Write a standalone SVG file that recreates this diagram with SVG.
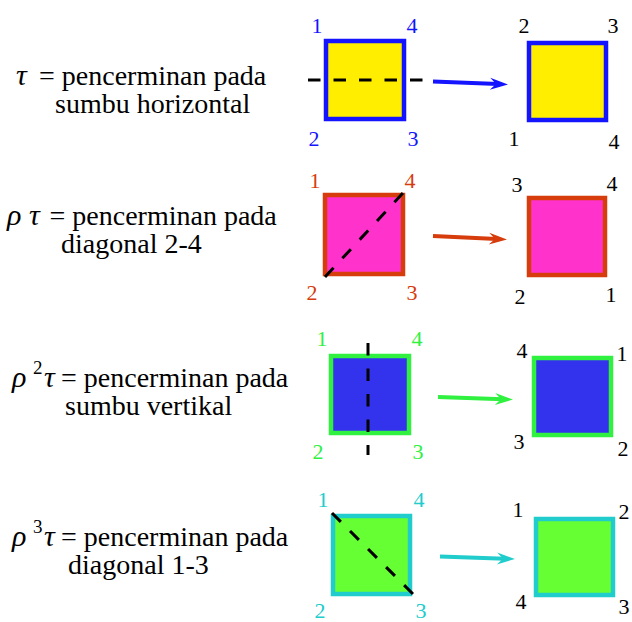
<svg xmlns="http://www.w3.org/2000/svg" width="632" height="622" viewBox="0 0 632 622" font-family="Liberation Serif, Times New Roman, DejaVu Serif, serif">
<style>
text{font-family:Liberation Serif,Times New Roman,DejaVu Serif,serif}
.lbl{font-size:28px;fill:#000}
.g{font-style:italic;font-size:30px}
.sup{font-size:19px}
.num{font-size:22px;text-anchor:middle}
.sq{stroke-width:4.5}
.axis{stroke:#000;stroke-width:3;stroke-dasharray:12.5 13;fill:none}
.arr{stroke-width:4;fill:none}
.c1{fill:#1414ff}.c2{fill:#d63c0c}.c3{fill:#30f040}.c4{fill:#20cccc}.k{fill:#000}
</style>
<defs>
<marker id="m1" markerUnits="userSpaceOnUse" markerWidth="30" markerHeight="20" viewBox="-10 -10 30 20" refX="0" refY="0" orient="auto"><path d="M10,0 L-8,-6 L-2,0 L-8,6 Z" fill="#1414ff"/></marker>
<marker id="m2" markerUnits="userSpaceOnUse" markerWidth="30" markerHeight="20" viewBox="-10 -10 30 20" refX="0" refY="0" orient="auto"><path d="M10,0 L-8,-6 L-2,0 L-8,6 Z" fill="#d63c0c"/></marker>
<marker id="m3" markerUnits="userSpaceOnUse" markerWidth="30" markerHeight="20" viewBox="-10 -10 30 20" refX="0" refY="0" orient="auto"><path d="M10,0 L-8,-6 L-2,0 L-8,6 Z" fill="#30f040"/></marker>
<marker id="m4" markerUnits="userSpaceOnUse" markerWidth="30" markerHeight="20" viewBox="-10 -10 30 20" refX="0" refY="0" orient="auto"><path d="M10,0 L-8,-6 L-2,0 L-8,6 Z" fill="#20cccc"/></marker>
</defs>

<g id="label1">
<text class="lbl g" x="16" y="85">τ</text>
<text class="lbl" x="39" y="85">= pencerminan pada</text>
<text class="lbl" x="55" y="113">sumbu horizontal</text>
</g>
<g id="label2">
<text class="lbl g" x="7" y="225">ρ</text>
<text class="lbl g" x="29" y="225">τ</text>
<text class="lbl" x="49.5" y="225">= pencerminan pada</text>
<text class="lbl" x="61" y="253">diagonal 2-4</text>
</g>
<g id="label3">
<text class="lbl g" x="12" y="387">ρ</text>
<text class="lbl sup" x="33" y="374">2</text>
<text class="lbl g" x="44" y="387">τ</text>
<text class="lbl" x="61" y="387">= pencerminan pada</text>
<text class="lbl" x="65" y="415">sumbu vertikal</text>
</g>
<g id="label4">
<text class="lbl g" x="12" y="546">ρ</text>
<text class="lbl sup" x="33" y="533">3</text>
<text class="lbl g" x="44" y="546">τ</text>
<text class="lbl" x="61" y="546">= pencerminan pada</text>
<text class="lbl" x="68" y="574">diagonal 1-3</text>
</g>

<g id="square1-before">
<rect class="sq" x="326" y="41" width="78" height="78" fill="#ffee00" stroke="#1414ff"/>
<line class="axis" x1="308" y1="80" x2="425" y2="80"/>
<text class="num c1" x="317" y="33">1</text>
<text class="num c1" x="412" y="33">4</text>
<text class="num c1" x="314" y="146">2</text>
<text class="num c1" x="413" y="146">3</text>
</g>
<g id="square1-after">
<rect class="sq" x="529" y="43" width="77" height="77" fill="#ffee00" stroke="#1414ff"/>
<text class="num k" x="524" y="33">2</text>
<text class="num k" x="613" y="33">3</text>
<text class="num k" x="514" y="146">1</text>
<text class="num k" x="614" y="149">4</text>
</g>

<g id="square2-before">
<rect class="sq" x="325" y="195" width="78" height="79" fill="#ff33cc" stroke="#d63c0c"/>
<line class="axis" x1="325" y1="277" x2="403" y2="193"/>
<text class="num c2" x="315" y="188">1</text>
<text class="num c2" x="410" y="188">4</text>
<text class="num c2" x="312" y="300">2</text>
<text class="num c2" x="412" y="300">3</text>
</g>
<g id="square2-after">
<rect class="sq" x="529" y="198" width="76" height="77" fill="#ff33cc" stroke="#d63c0c"/>
<text class="num k" x="517" y="192">3</text>
<text class="num k" x="612" y="191">4</text>
<text class="num k" x="520" y="304">2</text>
<text class="num k" x="611" y="302">1</text>
</g>

<g id="square3-before">
<rect class="sq" x="331" y="356" width="78" height="77" fill="#3333ee" stroke="#30f040"/>
<line class="axis" x1="368" y1="343" x2="368" y2="455"/>
<text class="num c3" x="322" y="346">1</text>
<text class="num c3" x="417" y="346">4</text>
<text class="num c3" x="318" y="459">2</text>
<text class="num c3" x="418" y="459">3</text>
</g>
<g id="square3-after">
<rect class="sq" x="534" y="358" width="77" height="77" fill="#3333ee" stroke="#30f040"/>
<text class="num k" x="522" y="358">4</text>
<text class="num k" x="622" y="361">1</text>
<text class="num k" x="519" y="449">3</text>
<text class="num k" x="623" y="456">2</text>
</g>

<g id="square4-before">
<rect class="sq" x="333" y="516" width="77" height="78" fill="#66ff33" stroke="#20cccc"/>
<line class="axis" x1="332" y1="513" x2="416" y2="597"/>
<text class="num c4" x="323" y="507">1</text>
<text class="num c4" x="419" y="507">4</text>
<text class="num c4" x="320" y="618">2</text>
<text class="num c4" x="421" y="618">3</text>
</g>
<g id="square4-after">
<rect class="sq" x="536" y="519" width="77" height="76" fill="#66ff33" stroke="#20cccc"/>
<text class="num k" x="518" y="517">1</text>
<text class="num k" x="624" y="519">2</text>
<text class="num k" x="521" y="609">4</text>
<text class="num k" x="624" y="614">3</text>
</g>

<g id="connectors">
<line class="arr" x1="433" y1="81.5" x2="498" y2="84.1" stroke="#1414ff" marker-end="url(#m1)"/>
<line class="arr" x1="433" y1="236" x2="497" y2="239" stroke="#d63c0c" marker-end="url(#m2)"/>
<line class="arr" x1="438" y1="397" x2="503" y2="399.2" stroke="#30f040" marker-end="url(#m3)"/>
<line class="arr" x1="440" y1="556.5" x2="505" y2="558.7" stroke="#20cccc" marker-end="url(#m4)"/>
</g>
</svg>
